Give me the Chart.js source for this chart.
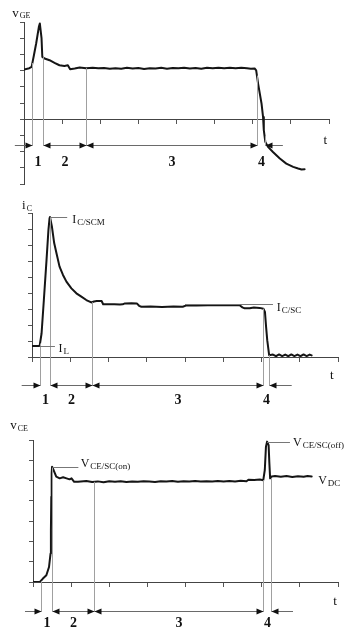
<!DOCTYPE html>
<html>
<head>
<meta charset="utf-8">
<script src="https://cdn.jsdelivr.net/npm/chart.js@4.4.0/dist/chart.umd.min.js"></script>
<style>
  html, body { margin: 0; padding: 0; background: #fff; }
  #page { position: relative; width: 354px; height: 642px; overflow: hidden; }
  canvas { position: absolute; left: 0; }
</style>
</head>
<body>
<div id="page">
  <canvas id="vge" width="354" height="195" style="top:0"></canvas>
  <canvas id="ic" width="354" height="215" style="top:195px"></canvas>
  <canvas id="vce" width="354" height="232" style="top:410px"></canvas>
</div>
<script>
// scope traces, [t, value] in axis units (1 unit = 1 tick)
const vgeWave = [
    [0, 3.07], [0.14, 3.15], [0.2, 3.23], [0.26, 3.95], [0.32, 4.69], [0.39, 5.7], [0.415, 5.91],
    [0.46, 5.0], [0.48, 3.85], [0.54, 3.75], [0.67, 3.64], [0.8, 3.48], [0.93, 3.33], [1.06, 3.29],
    [1.15, 3.33], [1.21, 3.09], [1.33, 3.13], [1.46, 3.19], [1.63, 3.15], [1.8, 3.17], [1.95, 3.14],
    [2.1, 3.16], [2.25, 3.11], [2.4, 3.15], [2.55, 3.12], [2.7, 3.17], [2.85, 3.13], [3.0, 3.16],
    [3.15, 3.1], [3.3, 3.15], [3.45, 3.13], [3.6, 3.17], [3.75, 3.12], [3.9, 3.16], [4.05, 3.14],
    [4.2, 3.18], [4.35, 3.13], [4.5, 3.16], [4.65, 3.11], [4.8, 3.17], [4.95, 3.14], [5.1, 3.18],
    [5.25, 3.15], [5.4, 3.17], [5.55, 3.14], [5.7, 3.18], [5.85, 3.15], [5.95, 3.12], [6.05, 3.13],
    [6.09, 3.02], [6.14, 2.2], [6.23, 0.97], [6.27, 0.14], [6.29, -0.68], [6.33, -1.4], [6.4, -1.71],
    [6.53, -2.02], [6.71, -2.43], [6.88, -2.74], [7.06, -2.94], [7.19, -3.04], [7.28, -3.1], [7.36, -3.09]
];
const icWave = [
    [0, 0.69], [0.2, 0.69], [0.25, 1.47], [0.31, 3.56], [0.38, 6.07], [0.43, 7.95], [0.46, 8.69],
    [0.47, 8.75], [0.52, 8.16], [0.58, 7.12], [0.64, 6.49], [0.72, 5.65], [0.81, 5.13], [0.9, 4.71],
    [1.03, 4.29], [1.16, 3.98], [1.29, 3.77], [1.42, 3.56], [1.55, 3.41], [1.62, 3.47], [1.69, 3.5],
    [1.82, 3.5], [1.86, 3.3], [2.0, 3.29], [2.15, 3.3], [2.3, 3.28], [2.37, 3.29], [2.43, 3.35],
    [2.6, 3.36], [2.74, 3.35], [2.8, 3.2], [2.86, 3.14], [3.1, 3.15], [3.4, 3.13], [3.7, 3.15],
    [3.94, 3.14], [4.04, 3.23], [4.3, 3.22], [4.6, 3.24], [4.9, 3.23], [5.2, 3.24], [5.43, 3.23],
    [5.5, 3.1], [5.56, 3.04], [5.69, 3.05], [5.8, 3.1], [5.95, 3.07], [6.05, 3.02], [6.09, 2.82],
    [6.12, 1.88], [6.15, 1.05], [6.2, 0.11], [6.3, 0.15], [6.38, 0.05], [6.46, 0.16], [6.54, 0.06],
    [6.62, 0.15], [6.7, 0.05], [6.78, 0.16], [6.86, 0.06], [6.94, 0.15], [7.02, 0.05], [7.1, 0.16],
    [7.18, 0.06], [7.26, 0.15], [7.31, 0.1]
];
const vceWave = [
    [0, 0], [0.18, 0], [0.26, 0.17], [0.35, 0.33], [0.42, 0.74], [0.46, 1.4], [0.47, 2.55],
    [0.48, 4.2], [0.49, 5.36], [0.5, 5.68], [0.54, 5.52], [0.61, 5.19], [0.7, 5.11], [0.79, 5.16],
    [0.88, 5.11], [0.96, 5.06], [1.01, 5.11], [1.08, 4.94], [1.18, 4.94], [1.4, 4.98], [1.55, 4.93],
    [1.7, 4.96], [1.85, 4.92], [2.0, 4.97], [2.15, 4.94], [2.3, 4.97], [2.45, 4.93], [2.6, 4.96],
    [2.75, 4.94], [2.9, 4.97], [3.05, 4.95], [3.2, 4.93], [3.35, 4.97], [3.5, 4.95], [3.65, 4.98],
    [3.8, 4.94], [3.95, 4.97], [4.1, 4.95], [4.25, 4.98], [4.4, 4.95], [4.55, 4.97], [4.7, 4.95],
    [4.85, 4.98], [5.0, 4.96], [5.15, 4.98], [5.3, 4.96], [5.45, 4.99], [5.6, 4.97], [5.65, 5.04],
    [5.8, 5.03], [5.95, 5.05], [6.04, 5.02], [6.08, 5.52], [6.11, 6.67], [6.14, 6.92], [6.18, 6.75],
    [6.2, 5.85], [6.22, 5.11], [6.26, 5.2], [6.35, 5.22], [6.5, 5.19], [6.65, 5.22], [6.8, 5.18],
    [6.95, 5.21], [7.1, 5.19], [7.2, 5.22], [7.31, 5.2]
];

// phase boundaries on the time axis (5 per plot)
const vgePhases = [0.22, 0.49, 1.63, 6.11, 6.31];
const icPhases = [0.21, 0.47, 1.57, 6.04, 6.2];
const vcePhases = [0.2, 0.51, 1.59, 6.03, 6.23];
const phaseNames = ['1', '2', '3', '4'];

const SERIF = "'Liberation Serif', 'DejaVu Serif', serif";

const panels = [
    {
        id: 'vge', wave: vgeWave, phases: vgePhases, yMin: -4, yMax: 6,
        pad: { left: 24, right: 25, top: 22, bottom: 11 },
        arrowY: -1.59, numY: -2.64, arrowFrom: -0.24, arrowTo: 6.79,
        title: { x: -0.31, y: 6.55, main: 'v', sub: 'GE' },
        tMark: { x: 7.9, y: -1.33 },
        leaders: [],
        notes: []
    },
    {
        id: 'ic', wave: icWave, phases: icPhases, yMin: 0, yMax: 9,
        pad: { left: 32, right: 16, top: 18, bottom: 53 },
        arrowY: -1.75, numY: -2.69, arrowFrom: -0.27, arrowTo: 6.79,
        title: { x: -0.26, y: 9.45, main: 'i', sub: 'C' },
        tMark: { x: 7.84, y: -1.13 },
        leaders: [[0.47, 0.92, 8.75], [4.0, 6.3, 3.31], [0.2, 0.6, 0.69]],
        notes: [
            { x: 1.05, y: 8.56, main: 'I', sub: 'C/SCM' },
            { x: 6.4, y: 3.06, main: 'I', sub: 'C/SC' },
            { x: 0.69, y: 0.5, main: 'I', sub: 'L' }
        ]
    },
    {
        id: 'vce', wave: vceWave, phases: vcePhases, yMin: 0, yMax: 7,
        pad: { left: 33, right: 16, top: 30, bottom: 60 },
        arrowY: -1.41, numY: -2.02, arrowFrom: -0.21, arrowTo: 6.82,
        title: { x: -0.6, y: 7.7, main: 'v', sub: 'CE' },
        tMark: { x: 7.92, y: -0.97 },
        leaders: [[0.53, 1.19, 5.68], [6.14, 6.74, 6.91]],
        notes: [
            { x: 1.25, y: 5.82, main: 'V', sub: 'CE/SC(on)' },
            { x: 6.82, y: 6.85, main: 'V', sub: 'CE/SC(off)' },
            { x: 7.48, y: 4.98, main: 'V', sub: 'DC' }
        ]
    }
];

function waveAt(wave, t) {
    for (let i = 1; i < wave.length; i++) {
        if (wave[i][0] >= t) {
            const [t0, v0] = wave[i - 1];
            const [t1, v1] = wave[i];
            return v0 + (v1 - v0) * (t - t0) / (t1 - t0);
        }
    }
    return wave[wave.length - 1][1];
}

function arrowHead(ctx, x, y, dir) {
    // dir = 1 points right, -1 points left; tip sits at x
    ctx.beginPath();
    ctx.moveTo(x, y);
    ctx.lineTo(x - dir * 7, y - 3);
    ctx.lineTo(x - dir * 7, y + 3);
    ctx.closePath();
    ctx.fill();
}

function subText(ctx, x, y, main, sub, mainSize, subSize) {
    ctx.textAlign = 'left';
    ctx.textBaseline = 'middle';
    ctx.font = mainSize + 'px ' + SERIF;
    ctx.fillText(main, x, y);
    const w = ctx.measureText(main).width;
    ctx.font = subSize + 'px ' + SERIF;
    ctx.fillText(sub, x + w + 1, y + 3);
}

function overlay(p) {
    return {
        id: 'overlay_' + p.id,
        afterDraw(chart) {
            const ctx = chart.ctx;
            const X = v => chart.scales.x.getPixelForValue(v);
            const Y = v => chart.scales.y.getPixelForValue(v);
            const ay = Math.round(Y(p.arrowY)) + 0.5;
            const ph = p.phases.map(t => Math.round(X(t)) + 0.5);
            ctx.save();

            // phase boundary lines, from the trace down to the arrow row
            ctx.strokeStyle = '#a0a0a0';
            ctx.lineWidth = 1;
            p.phases.forEach((t, i) => {
                ctx.beginPath();
                ctx.moveTo(ph[i], Y(waveAt(p.wave, t)));
                ctx.lineTo(ph[i], ay);
                ctx.stroke();
            });

            // leader lines for the notes
            ctx.strokeStyle = '#777';
            p.leaders.forEach(([x1, x2, y]) => {
                const yy = Math.round(Y(y)) + 0.5;
                ctx.beginPath();
                ctx.moveTo(X(x1), yy);
                ctx.lineTo(X(x2), yy);
                ctx.stroke();
            });

            // dimension arrows
            const segs = [
                [X(p.arrowFrom), ph[0], false, true],
                [ph[1], ph[2], true, true],
                [ph[2], ph[3], true, true],
                [ph[4], X(p.arrowTo), true, false]
            ];
            ctx.strokeStyle = '#6a6a6a';
            ctx.fillStyle = '#111';
            segs.forEach(([a, b, headA, headB]) => {
                ctx.beginPath();
                ctx.moveTo(a, ay);
                ctx.lineTo(b, ay);
                ctx.stroke();
                if (headA) arrowHead(ctx, a, ay, -1);
                if (headB) arrowHead(ctx, b, ay, 1);
            });

            // phase numbers
            ctx.fillStyle = '#111';
            ctx.font = 'bold 14px ' + SERIF;
            ctx.textAlign = 'center';
            ctx.textBaseline = 'middle';
            phaseNames.forEach((name, i) => {
                ctx.fillText(name, (ph[i] + ph[i + 1]) / 2, Y(p.numY));
            });

            // time label
            ctx.font = '13px ' + SERIF;
            ctx.fillText('t', X(p.tMark.x), Y(p.tMark.y));

            // axis title and notes
            subText(ctx, X(p.title.x), Y(p.title.y), p.title.main, p.title.sub, 13, 8);
            p.notes.forEach(n => subText(ctx, X(n.x), Y(n.y), n.main, n.sub, 12, 9));

            ctx.restore();
        }
    };
}

panels.forEach(p => {
    new Chart(document.getElementById(p.id), {
        type: 'line',
        data: {
            datasets: [{
                data: p.wave.map(([t, v]) => ({ x: t, y: v })),
                borderColor: '#151515',
                borderWidth: 2,
                pointRadius: 0,
                tension: 0,
                fill: false,
                borderJoinStyle: 'round',
                borderCapStyle: 'round'
            }]
        },
        options: {
            responsive: false,
            animation: false,
            layout: { padding: p.pad },
            plugins: { legend: { display: false }, tooltip: { enabled: false } },
            scales: {
                x: {
                    type: 'linear', min: 0, max: 8,
                    position: { y: 0 },
                    ticks: { display: false, stepSize: 1 },
                    grid: { drawOnChartArea: false, drawTicks: true, tickLength: 4, color: '#555' },
                    border: { display: true, color: '#444', width: 1 }
                },
                y: {
                    type: 'linear', min: p.yMin, max: p.yMax,
                    position: { x: 0 },
                    ticks: { display: false, stepSize: 1 },
                    grid: { drawOnChartArea: false, drawTicks: true, tickLength: 4, color: '#555' },
                    border: { display: true, color: '#444', width: 1 }
                }
            }
        },
        plugins: [overlay(p)]
    });
});
</script>
</body>
</html>
